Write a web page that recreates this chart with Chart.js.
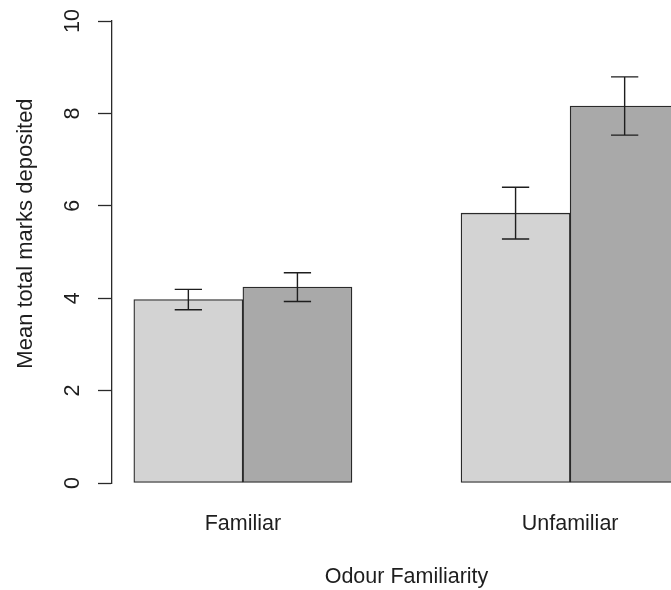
<!DOCTYPE html>
<html>
<head>
<meta charset="utf-8">
<script src="https://cdn.jsdelivr.net/npm/chart.js@4/dist/chart.umd.min.js"></script>
<style>
  html, body { margin: 0; padding: 0; background: #fff; width: 671px; height: 590px; overflow: hidden; }
  #wrap { width: 701px; height: 590px; }
</style>
</head>
<body>
<div id="wrap"><canvas id="chart" width="701" height="590"></canvas></div>
<script>
// Mean marks per odour condition, two groups per condition, with standard errors
const categories = ['Familiar', 'Unfamiliar'];
const seriesLabels = ['Group 1', 'Group 2'];
const group1Means = [3.97, 5.84];
const group1Errors = [0.22, 0.56];
const group2Means = [4.24, 8.16];
const group2Errors = [0.31, 0.63];
const yTicks = [0, 2, 4, 6, 8, 10];
const yTitle = 'Mean total marks deposited';
const xTitle = 'Odour Familiarity';
// upper y limit of the plotting region (the axis line itself stops at the last tick)
const yLimit = 10.8;

const FAMILY = '"Liberation Sans", Arial, sans-serif';
const FONT = { family: FAMILY, size: 21.5 };
const INK = '#1e1e1e';
const EDGE = '#2a2a2a';

// Side-by-side bar layout: unit-wide bars, one empty unit between groups,
// axis range padded by 4% of the span on each side.
const nSeries = 2;
const groupStart = g => 1 + g * (nSeries + 1);
const barCenter = (g, s) => groupStart(g) + s + 0.5;
const groupCenter = g => groupStart(g) + nSeries / 2;
const firstEdge = groupStart(0);
const lastEdge = groupStart(categories.length - 1) + nSeries;
const pad = (lastEdge - firstEdge) * 0.04;

const toPoints = (means, s) => means.map((v, g) => ({ x: barCenter(g, s), y: v }));

const errorBars = {
  id: 'errorBars',
  afterDatasetsDraw(chart) {
    const ctx = chart.ctx;
    const y = chart.scales.y;
    ctx.save();
    ctx.strokeStyle = INK;
    ctx.lineWidth = 1.4;
    chart.data.datasets.forEach((ds, di) => {
      const meta = chart.getDatasetMeta(di);
      meta.data.forEach((bar, i) => {
        const m = ds.data[i].y, e = ds.errors[i];
        const x = bar.x;
        const half = bar.width * 0.125;
        const yHi = y.getPixelForValue(m + e);
        const yLo = y.getPixelForValue(m - e);
        ctx.beginPath();
        ctx.moveTo(x, yHi); ctx.lineTo(x, yLo);
        ctx.moveTo(x - half, yHi); ctx.lineTo(x + half, yHi);
        ctx.moveTo(x - half, yLo); ctx.lineTo(x + half, yLo);
        ctx.stroke();
      });
    });
    ctx.restore();
  }
};

// y-axis title, centred on the full plotting region rather than on the tick span
const yAxisTitle = {
  id: 'yAxisTitle',
  afterDraw(chart) {
    const ctx = chart.ctx;
    const y = chart.scales.y;
    const yc = y.getPixelForValue(yLimit / 2);
    ctx.save();
    ctx.translate(26, yc);
    ctx.rotate(-Math.PI / 2);
    ctx.font = '22px ' + FAMILY;
    ctx.fillStyle = INK;
    ctx.textAlign = 'center';
    ctx.textBaseline = 'middle';
    ctx.fillText(yTitle, 0, 0);
    ctx.restore();
  }
};

const barStyle = {
  borderColor: EDGE,
  borderWidth: 1.3,
  borderSkipped: false,
  grouped: false,
  categoryPercentage: 1,
  barPercentage: 1
};

new Chart(document.getElementById('chart'), {
  type: 'bar',
  data: {
    datasets: [
      Object.assign({ label: seriesLabels[0], data: toPoints(group1Means, 0), errors: group1Errors, backgroundColor: '#d3d3d3' }, barStyle),
      Object.assign({ label: seriesLabels[1], data: toPoints(group2Means, 1), errors: group2Errors, backgroundColor: '#a9a9a9' }, barStyle)
    ]
  },
  options: {
    responsive: false,
    animation: false,
    devicePixelRatio: 1,
    layout: { autoPadding: false, padding: { top: 21, right: 0, bottom: 0, left: 0 } },
    plugins: { legend: { display: false }, tooltip: { enabled: false } },
    scales: {
      x: {
        type: 'linear',
        offset: false,
        min: firstEdge - pad,
        max: lastEdge + pad,
        grid: { display: false, drawTicks: false },
        border: { display: false },
        afterBuildTicks: s => { s.ticks = categories.map((c, g) => ({ value: groupCenter(g) })); },
        afterFit: s => { s.height = 107; },
        ticks: {
          autoSkip: false,
          maxRotation: 0,
          padding: 28,
          color: INK,
          font: FONT,
          callback: (v, i) => categories[i]
        },
        title: { display: true, text: xTitle, color: INK, font: FONT, padding: { top: 0, bottom: 0 } }
      },
      y: {
        min: 0,
        max: 10,
        afterBuildTicks: s => { s.ticks = yTicks.map(v => ({ value: v })); },
        afterFit: s => { s.width = 112; s.paddingTop = 0; s.paddingBottom = 0; },
        grid: { drawOnChartArea: false, drawTicks: true, tickLength: 14, tickWidth: 1.3, tickColor: EDGE },
        border: { display: true, color: EDGE, width: 1.3 },
        ticks: {
          minRotation: 90,
          maxRotation: 90,
          crossAlign: 'center',
          padding: 13,
          color: INK,
          font: FONT
        },
        title: { display: false }
      }
    }
  },
  plugins: [errorBars, yAxisTitle]
});
</script>
</body>
</html>
